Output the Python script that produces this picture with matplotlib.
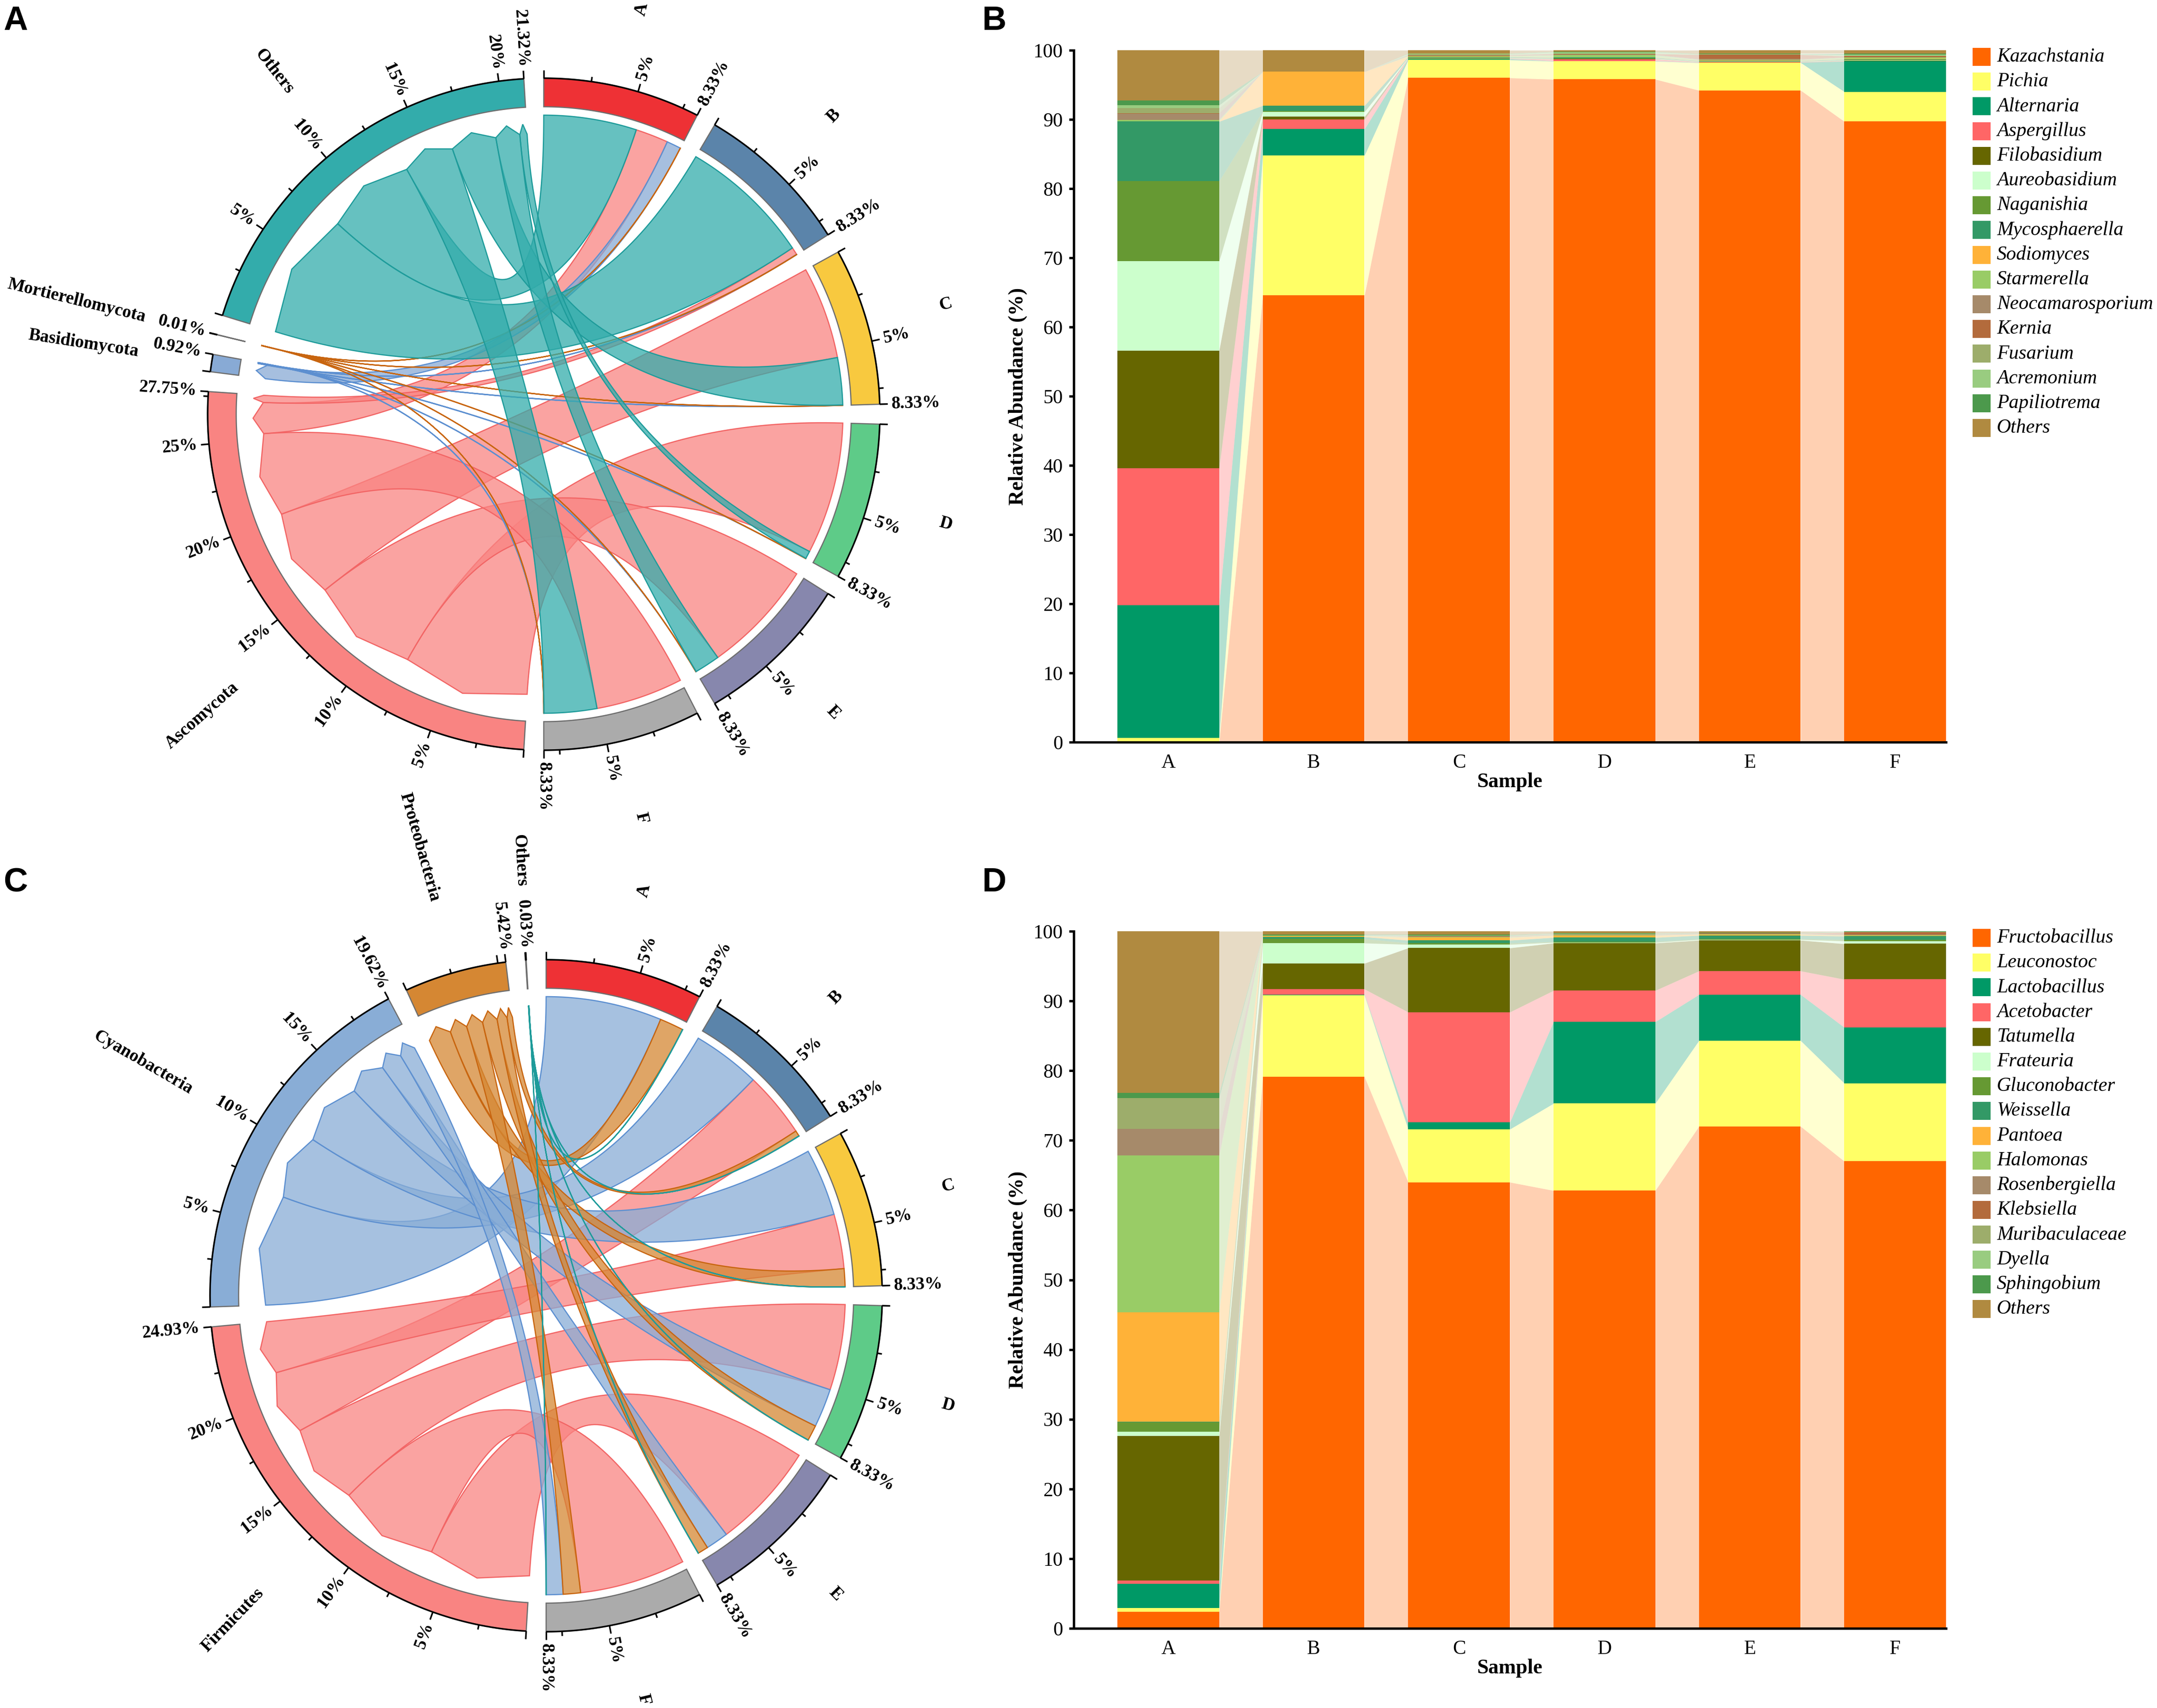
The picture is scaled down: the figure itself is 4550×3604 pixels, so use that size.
import numpy as np
import matplotlib
matplotlib.use("Agg")
import matplotlib.pyplot as plt
from matplotlib.patches import Polygon, Rectangle
from matplotlib.colors import to_rgba

plt.rcParams['font.family'] = ['Liberation Serif', 'DejaVu Serif']

# ------------------------------------------------------------------ data
samples = ['A', 'B', 'C', 'D', 'E', 'F']

# chord A: fungal phyla x samples (percent of whole circle)
fungal_phyla = ['Ascomycota', 'Basidiomycota', 'Mortierellomycota', 'Others']
chordA_ascomycota = [1.955, 0.450, 5.500, 7.860, 6.800, 5.185]
chordA_basidiomycota = [0.850, 0.010, 0.020, 0.015, 0.015, 0.010]
chordA_mortierellomycota = [0.002, 0.002, 0.002, 0.002, 0.001, 0.001]
chordA_others = [5.5263, 7.8713, 2.8113, 0.4563, 1.5173, 3.1373]

# chord C: bacterial phyla x samples
bacterial_phyla = ['Firmicutes', 'Cyanobacteria', 'Proteobacteria', 'Others']
chordC_firmicutes = [0.0, 3.93, 3.25, 5.10, 6.35, 6.30]
chordC_cyanobacteria = [6.9033, 4.0533, 4.0083, 2.3013, 1.3513, 1.0023]
chordC_proteobacteria = [1.42, 0.34, 1.07, 0.93, 0.63, 1.03]
chordC_others = [0.010, 0.010, 0.005, 0.002, 0.002, 0.001]

# panel B: fungal genera relative abundance per sample
fungal_genera = ['Kazachstania', 'Pichia', 'Alternaria', 'Aspergillus', 'Filobasidium',
                 'Aureobasidium', 'Naganishia', 'Mycosphaerella', 'Sodiomyces', 'Starmerella',
                 'Neocamarosporium', 'Kernia', 'Fusarium', 'Acremonium', 'Papiliotrema', 'Others']
fungi_A = [0.0, 0.6, 19.2, 19.8, 17.0, 12.9, 11.6, 8.6, 0.05, 0.2, 0.9, 0.05, 0.75, 0.4, 0.7, 7.25]
fungi_B = [64.6, 20.2, 3.8, 1.4, 0.4, 0.7, 0.1, 0.8, 4.9, 0.0, 0.0, 0.0, 0.0, 0.0, 0.0, 3.1]
fungi_C = [96.0, 2.6, 0.15, 0.05, 0.05, 0.05, 0.05, 0.1, 0.05, 0.1, 0.05, 0.05, 0.1, 0.1, 0.05, 0.45]
fungi_D = [95.8, 2.6, 0.05, 0.25, 0.05, 0.05, 0.05, 0.1, 0.05, 0.3, 0.05, 0.1, 0.1, 0.2, 0.05, 0.2]
fungi_E = [94.2, 4.0, 0.05, 0.05, 0.05, 0.05, 0.05, 0.05, 0.05, 0.1, 0.1, 0.6, 0.05, 0.05, 0.05, 0.5]
fungi_F = [89.7, 4.3, 4.4, 0.05, 0.05, 0.05, 0.05, 0.1, 0.05, 0.2, 0.05, 0.15, 0.05, 0.15, 0.15, 0.5]

# panel D: bacterial genera relative abundance per sample
bacterial_genera = ['Fructobacillus', 'Leuconostoc', 'Lactobacillus', 'Acetobacter', 'Tatumella',
                    'Frateuria', 'Gluconobacter', 'Weissella', 'Pantoea', 'Halomonas',
                    'Rosenbergiella', 'Klebsiella', 'Muribaculaceae', 'Dyella', 'Sphingobium', 'Others']
bact_A = [2.35, 0.55, 3.5, 0.5, 20.7, 0.6, 1.4, 0.05, 15.7, 22.5, 3.8, 0.0, 4.4, 0.05, 0.7, 23.2]
bact_B = [79.1, 11.7, 0.1, 0.8, 3.7, 2.9, 0.6, 0.3, 0.1, 0.1, 0.0, 0.0, 0.0, 0.0, 0.1, 0.5]
bact_C = [64.0, 7.6, 1.0, 15.8, 9.2, 0.5, 0.2, 0.4, 0.4, 0.1, 0.05, 0.05, 0.05, 0.05, 0.1, 0.5]
bact_D = [62.8, 12.5, 11.7, 4.5, 6.8, 0.1, 0.1, 0.6, 0.3, 0.05, 0.05, 0.05, 0.05, 0.05, 0.05, 0.3]
bact_E = [72.0, 12.3, 6.6, 3.4, 4.4, 0.1, 0.1, 0.5, 0.15, 0.05, 0.05, 0.05, 0.05, 0.0, 0.05, 0.2]
bact_F = [67.0, 11.2, 8.0, 6.9, 5.1, 0.4, 0.2, 0.5, 0.1, 0.05, 0.05, 0.35, 0.05, 0.05, 0.05, 0.0]

# ------------------------------------------------------------------ styles
genus_colors = ['#FF6600', '#FFFF66', '#009966', '#FF6666', '#666600', '#CCFFCC', '#669933',
                '#339966', '#FFB238', '#99CC66', '#A68A6A', '#B36B3C', '#9DAD6B', '#99CC80',
                '#4C994C', '#B08A40']
sample_colors = ['#EE3135', '#5B84AA', '#F8C93F', '#5ECB88', '#8787AD', '#ABABAB']
fungal_phylum_colors = ['#F98482', '#88AAD5', '#C8650F', '#33ACAB']
fungal_link_edges = ['#F26565', '#5C8FD0', '#C8650F', '#1E9B9A']
bact_phylum_colors = ['#F98482', '#89ADD6', '#D58733', '#1E9B9A']
bact_link_edges = ['#F26565', '#5C8FD0', '#C8650F', '#1E9B9A']

W, H = 4550, 3604
DPI = 300
fig = plt.figure(figsize=(W / DPI, H / DPI), dpi=DPI)

# pixel-space axes for the chord diagrams (left half)
axL = fig.add_axes([0, 0, 2150 / W, 1])
axL.set_xlim(0, 2150)
axL.set_ylim(H, 0)
axL.axis('off')

R_IN = 0.915
R_SAMPLE = 0.89
R_TIP = 0.865
R_BASE = 0.835
CHORD_FS = 9


def draw_chord(ax, cx, cy, R, phyla, rows, phylum_colors, link_edges, gap=3.4):
    mat = np.array(rows, dtype=float)          # phyla x samples
    s_tot = mat.sum(axis=0)
    p_tot = mat.sum(axis=1)
    names = samples + phyla
    totals = list(s_tot) + list(p_tot)
    colors = sample_colors + phylum_colors
    n = len(names)
    unit = (360.0 - n * gap) / sum(totals)
    starts = []
    a = 90.0
    for t in totals:
        starts.append(a)
        a -= t * unit + gap

    def ang(k, v):
        return starts[k] - v * unit

    def pt(r, th):
        t = np.deg2rad(th)
        return np.array([cx + r * R * np.cos(t), cy - r * R * np.sin(t)])

    def arc(r, a0, a1, m=None):
        if m is None:
            m = max(3, int(abs(a1 - a0) * 4) + 3)
        th = np.linspace(a0, a1, m)
        return np.column_stack([cx + r * R * np.cos(np.deg2rad(th)),
                                cy - r * R * np.sin(np.deg2rad(th))])

    def bez(p0, p2, m=70):
        c = np.array([cx, cy])
        t = np.linspace(0, 1, m)[:, None]
        return (1 - t) ** 2 * p0 + 2 * (1 - t) * t * c + t ** 2 * p2

    def rtext(r, th, s, **kw):
        thn = th % 360
        x, y = pt(r, th)
        if 90 + 1e-6 < thn < 270 - 1e-6:
            rot = thn - 180
            ha = 'right'
        else:
            rot = thn if thn <= 90 + 1e-6 else thn - 360
            ha = 'left'
        ax.text(x, y, s, rotation=rot, ha=ha, va='center', rotation_mode='anchor', **kw)

    # ---- links (sorted by size inside every sector)
    ns = len(samples)
    s_pos = {}
    for j in range(ns):
        order = np.argsort(-mat[:, j], kind='stable')
        off = 0.0
        for i in order:
            s_pos[(i, j)] = (ang(j, off), ang(j, off + mat[i, j]))
            off += mat[i, j]
    p_pos = {}
    for i in range(len(phyla)):
        order = np.argsort(-mat[i, :], kind='stable')
        off = 0.0
        for j in order:
            p_pos[(i, j)] = (ang(ns + i, off), ang(ns + i, off + mat[i, j]))
            off += mat[i, j]

    for i in range(len(phyla)):
        for j in range(ns):
            v = mat[i, j]
            if v <= 0:
                continue
            sa, sb = s_pos[(i, j)]
            pa, pb = p_pos[(i, j)]
            a1 = arc(R_SAMPLE, sa, sb)
            b1 = bez(pt(R_SAMPLE, sb), pt(R_BASE, pa))
            tip = pt(R_TIP, (pa + pb) / 2)[None, :]
            b2 = bez(pt(R_BASE, pb), pt(R_SAMPLE, sa))
            verts = np.vstack([a1, b1, tip, b2])
            ax.add_patch(Polygon(verts, closed=True,
                                 facecolor=to_rgba(phylum_colors[i], 0.75),
                                 edgecolor=link_edges[i], lw=0.6, joinstyle='miter'))

    # ---- sector bands, axis, ticks, labels
    for k, (name, tot) in enumerate(zip(names, totals)):
        a0, a1 = starts[k], ang(k, tot)
        outer = arc(1.0, a0, a1)
        inner = arc(R_IN, a1, a0)
        ax.add_patch(Polygon(np.vstack([outer, inner]), closed=True,
                             facecolor=colors[k], edgecolor='#6E6E6E', lw=0.6))
        ax.plot(outer[:, 0], outer[:, 1], color='black', lw=0.8, solid_capstyle='butt')
        ticks = [0.0] + [v for v in np.arange(2.5, tot, 2.5) if tot - v > 1e-6] + [tot]
        for v in ticks:
            major = v == 0 or v == tot or abs(v / 5 - round(v / 5)) < 1e-9
            L = 0.024 if major else 0.014
            th = ang(k, v)
            p0, p1 = pt(1.0, th), pt(1.0 + L, th)
            ax.plot([p0[0], p1[0]], [p0[1], p1[1]], color='black', lw=0.8,
                    solid_capstyle='butt')
            lab = None
            if v == tot:
                lab = f'{tot:.2f}%'
            elif major and v > 0 and tot - v >= 1.0:
                lab = f'{int(round(v))}%'
            if lab:
                rtext(1.035, th, lab, fontsize=CHORD_FS, fontweight='bold')
        rtext(1.22, (a0 + a1) / 2, name, fontsize=CHORD_FS, fontweight='bold')


draw_chord(axL, 1147, 874, 709, fungal_phyla,
           [chordA_ascomycota, chordA_basidiomycota, chordA_mortierellomycota, chordA_others],
           fungal_phylum_colors, fungal_link_edges)
draw_chord(axL, 1152, 2734, 709, bacterial_phyla,
           [chordC_firmicutes, chordC_cyanobacteria, chordC_proteobacteria, chordC_others],
           bact_phylum_colors, bact_link_edges)


# ------------------------------------------------------------------ stacked bars
def draw_bars(y0_px, y100_px, columns, taxa):
    left, right = 2265, 4105
    ax = fig.add_axes([left / W, 1 - y0_px / H, (right - left) / W, (y0_px - y100_px) / H])
    data = np.array(columns, dtype=float).T     # taxa x samples
    x = np.arange(len(samples))
    w = 0.7
    cum = np.cumsum(data, axis=0)
    bottoms = np.vstack([np.zeros(len(samples)), cum[:-1]])
    tops = bottoms + data
    for k in range(len(taxa)):
        for i in range(len(samples) - 1):
            ax.fill_between([x[i] + w / 2, x[i + 1] - w / 2],
                            [bottoms[k, i], bottoms[k, i + 1]],
                            [tops[k, i], tops[k, i + 1]],
                            color=genus_colors[k], alpha=0.3, lw=0)
        ax.bar(x, data[k], w, bottom=bottoms[k], color=genus_colors[k], lw=0)
    ax.set_xlim(-0.65, 5.35)
    ax.set_ylim(0, 100)
    ax.set_yticks(np.arange(0, 101, 10))
    ax.set_xticks(x)
    ax.set_xticklabels(samples)
    for s in ['top', 'right']:
        ax.spines[s].set_visible(False)
    for s in ['left', 'bottom']:
        ax.spines[s].set_linewidth(1.2)
    ax.tick_params(axis='y', length=2.5, width=1.2, labelsize=10, pad=3)
    ax.tick_params(axis='x', length=0, labelsize=10, pad=6)
    ax.set_xlabel('Sample', fontsize=10.5, fontweight='bold', labelpad=0)
    ax.set_ylabel('Relative Abundance (%)', fontsize=10.5, fontweight='bold', labelpad=3)
    # legend
    first = y100_px + 14
    for k, name in enumerate(taxa):
        yc = first + k * 52.2
        fig.patches.append(Rectangle((4161 / W, 1 - (yc + 19) / H), 38 / W, 38 / H,
                                     transform=fig.transFigure, facecolor=genus_colors[k],
                                     edgecolor='none'))
        fig.text(4212 / W, 1 - yc / H, name, fontsize=10, style='italic',
                 ha='left', va='center')
    return ax


draw_bars(1566, 106, [fungi_A, fungi_B, fungi_C, fungi_D, fungi_E, fungi_F], fungal_genera)
draw_bars(3436, 1965, [bact_A, bact_B, bact_C, bact_D, bact_E, bact_F], bacterial_genera)

# panel letters
for lab, xp, yp in [('A', 7, 12), ('B', 2071, 12), ('C', 7, 1830), ('D', 2071, 1830)]:
    fig.text(xp / W, 1 - yp / H, lab, fontsize=17, fontweight='bold',
             family=['Liberation Sans', 'DejaVu Sans'], ha='left', va='top')

fig.savefig('out.png', dpi=DPI)
